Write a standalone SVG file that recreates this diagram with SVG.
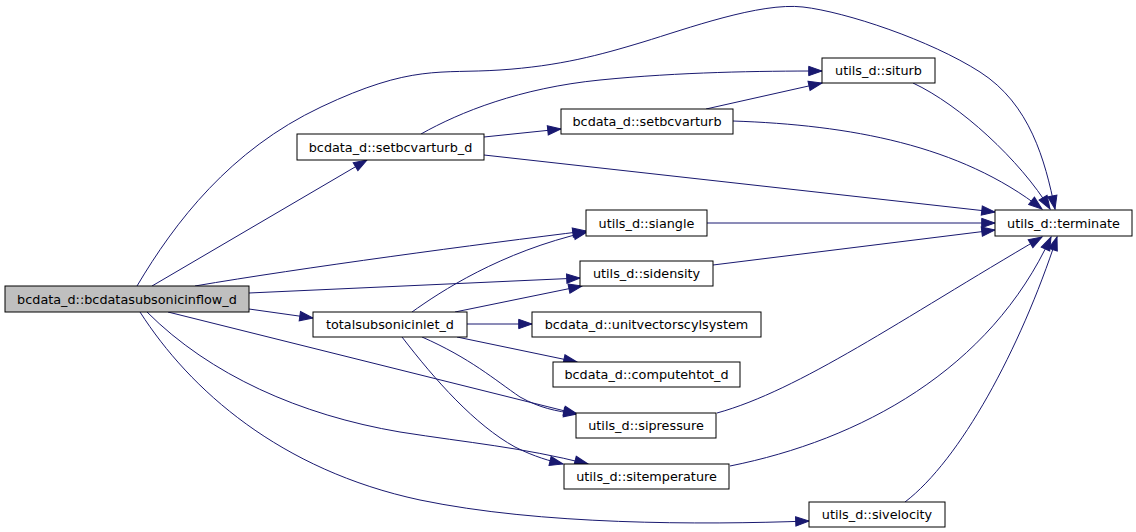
<svg xmlns="http://www.w3.org/2000/svg" width="1136" height="532" viewBox="0 0 1136 532">
<style>
.n rect{fill:#ffffff;stroke:#000000;stroke-width:1}
.n.main rect{fill:#bfbfbf}
.n text{font-family:"DejaVu Sans","Liberation Sans",sans-serif;font-size:12.8px;fill:#000000;text-anchor:middle}
.e path{fill:none;stroke:#191970;stroke-width:1;marker-end:url(#arr)}
</style>
<defs>
<marker id="arr" markerUnits="userSpaceOnUse" markerWidth="15" markerHeight="11" refX="13.3" refY="4.67" orient="auto" overflow="visible">
<path d="M0,0 L13.3,4.67 L0,9.33 Z" fill="#191970" stroke="#191970" stroke-width="1"/>
</marker>
</defs>
<rect width="1136" height="532" fill="#ffffff"/>
<g id="edges" class="e">
<path d="M152,286 L367,160"/>
<path d="M137,286 C175,222 230,150 321,107 S440,74 500,70 S600,55 643,42 S760,2 803,7 S930,40 980,72 S1045,160 1055,209"/>
<path d="M195,286 C300,268 480,244 586,231"/>
<path d="M249,293 L580,278"/>
<path d="M249,309 L313,318"/>
<path d="M168,312 L577,414"/>
<path d="M147,312 C210,375 300,415 400,432 C470,443 520,447 588,464"/>
<path d="M140,312 C190,390 280,470 420,500 C540,525 700,525 809,521"/>
<path d="M412,312 C440,292 500,252 587,232"/>
<path d="M455,312 L582,286"/>
<path d="M467,324 L532,324"/>
<path d="M457,337 L577,362"/>
<path d="M422,337 C470,358 495,380 520,397 C540,408 555,411 577,414"/>
<path d="M402,337 C435,380 475,425 515,447 C535,457 550,461 563,464"/>
<path d="M421,134 C460,112 520,88 600,80 C680,72 760,71 822,71"/>
<path d="M484,137 L561,129"/>
<path d="M706,109 L822,83"/>
<path d="M733,121 C850,125 960,145 1042,209"/>
<path d="M484,155 L995,212"/>
<path d="M913,83 C960,105 1020,160 1050,209"/>
<path d="M707,223 L995,223"/>
<path d="M713,265 L995,230"/>
<path d="M717,413 C800,390 900,320 1042,237"/>
<path d="M730,466 C860,440 990,370 1051,237"/>
<path d="M905,502 C960,460 1020,350 1057,237"/>
</g>
<g id="node_main" class="n main"><rect x="5" y="286" width="244" height="26"/><text x="127" y="303.5">bcdata_d::bcdatasubsonicinflow_d</text></g>
<g id="node_setbcvarturb_d" class="n"><rect x="297" y="134" width="187" height="26"/><text x="390.5" y="151.5">bcdata_d::setbcvarturb_d</text></g>
<g id="node_setbcvarturb" class="n"><rect x="561" y="109" width="172" height="25"/><text x="647" y="126">bcdata_d::setbcvarturb</text></g>
<g id="node_siturb" class="n"><rect x="822" y="58" width="113" height="25"/><text x="878.5" y="75">utils_d::siturb</text></g>
<g id="node_terminate" class="n"><rect x="995" y="210" width="137" height="26"/><text x="1063.5" y="227.5">utils_d::terminate</text></g>
<g id="node_siangle" class="n"><rect x="586" y="210" width="121" height="26"/><text x="646.5" y="227.5">utils_d::siangle</text></g>
<g id="node_sidensity" class="n"><rect x="580" y="261" width="133" height="25"/><text x="646.5" y="278">utils_d::sidensity</text></g>
<g id="node_totalsubsonicinlet_d" class="n"><rect x="313" y="312" width="154" height="25"/><text x="390" y="329">totalsubsonicinlet_d</text></g>
<g id="node_unitvectorscylsystem" class="n"><rect x="532" y="312" width="229" height="25"/><text x="646.5" y="329">bcdata_d::unitvectorscylsystem</text></g>
<g id="node_computehtot_d" class="n"><rect x="553" y="362" width="187" height="25"/><text x="646.5" y="379">bcdata_d::computehtot_d</text></g>
<g id="node_sipressure" class="n"><rect x="576" y="413" width="140" height="25"/><text x="646" y="430">utils_d::sipressure</text></g>
<g id="node_sitemperature" class="n"><rect x="564" y="464" width="165" height="25"/><text x="646.5" y="481">utils_d::sitemperature</text></g>
<g id="node_sivelocity" class="n"><rect x="809" y="502" width="136" height="25"/><text x="877" y="519">utils_d::sivelocity</text></g>
</svg>
